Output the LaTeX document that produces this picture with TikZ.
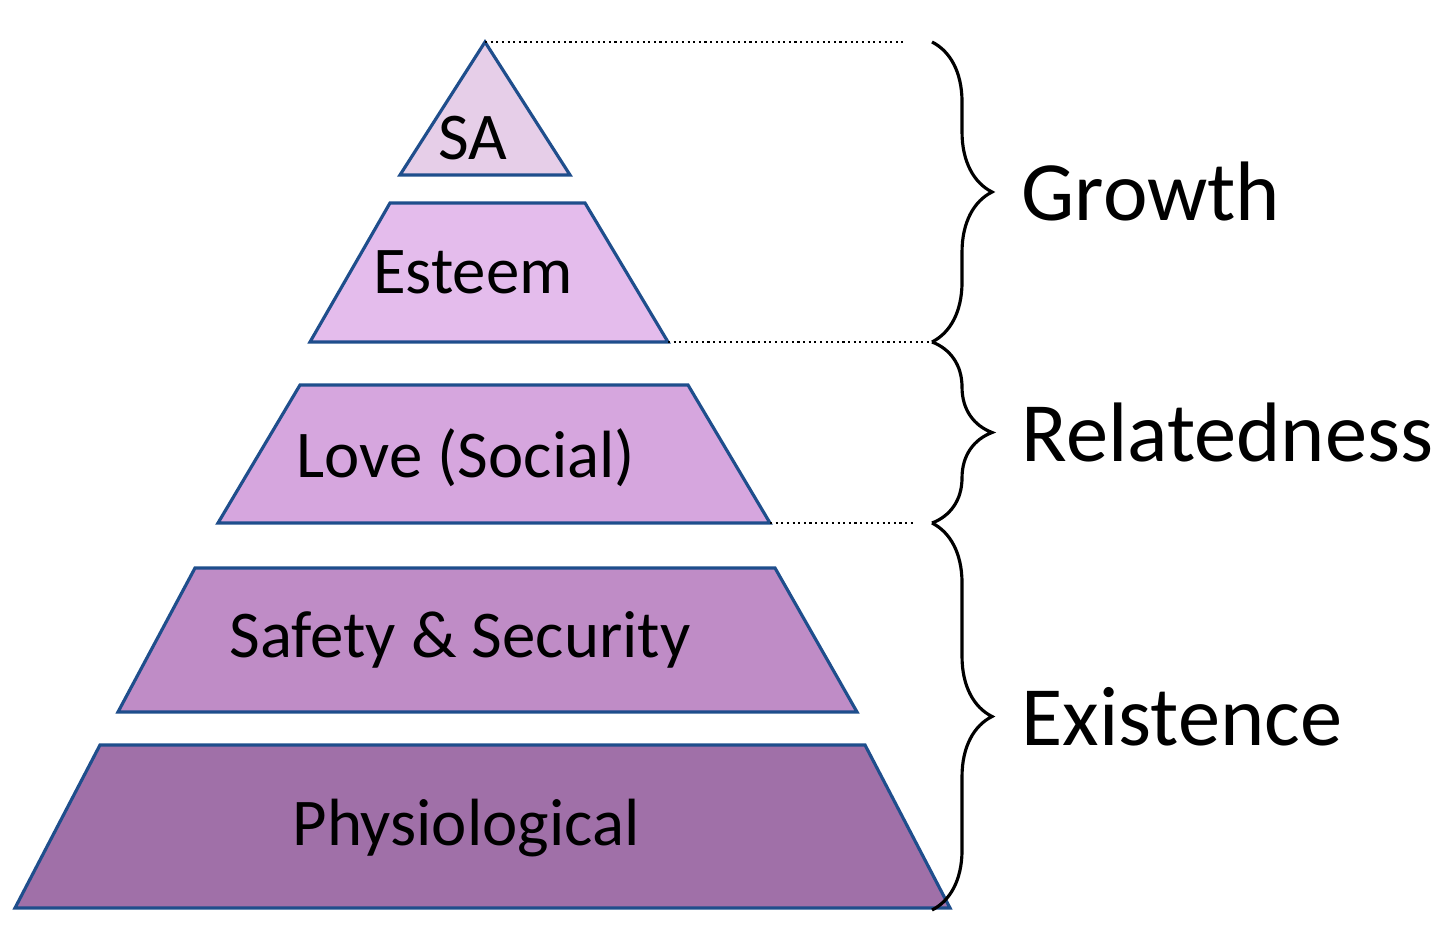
\documentclass[tikz,border=0pt]{standalone}
\usepackage{fontspec}
\setmainfont{Carlito}
\usetikzlibrary{positioning,calc,decorations.pathreplacing}
\definecolor{edgeblue}{RGB}{31,78,140}
\definecolor{saFill}{RGB}{230,206,232}
\definecolor{esFill}{RGB}{228,188,236}
\definecolor{loFill}{RGB}{214,166,222}
\definecolor{sfFill}{RGB}{191,140,198}
\definecolor{phFill}{RGB}{160,112,168}

\begin{document}
\begin{tikzpicture}[x=0.01cm, y=-0.01cm,
  layer/.style={draw=edgeblue, line width=0.9pt},
  lbl/.style={font=\fontsize{19}{23}\selectfont, inner sep=0pt},
  grp/.style={font=\fontsize{24}{28}\selectfont, anchor=west, inner sep=0pt},
  guide/.style={densely dotted, line width=0.6pt},
  bracket/.style={decorate, decoration={brace, amplitude=0.6cm}, line width=0.9pt}
]
\useasboundingbox (0,0) rectangle (1440,940);
% pyramid layers
\draw[layer, fill=saFill] (485,42) -- (570,175) -- (400,175) -- cycle;
\draw[layer, fill=esFill] (390,203) -- (585,203) -- (668,342) -- (310,342) -- cycle;
\draw[layer, fill=loFill] (300,385) -- (688,385) -- (770,523) -- (218,523) -- cycle;
\draw[layer, fill=sfFill] (195,568) -- (775,568) -- (857,712) -- (118,712) -- cycle;
\draw[layer, fill=phFill] (100,745) -- (865,745) -- (950,908) -- (15,908) -- cycle;
\node[lbl] (sa) at (473,138) {SA};
\node[lbl] (esteem) at (473,272) {Esteem};
\node[lbl] (love) at (466,458) {Love (Social)};
\node[lbl] (safety) at (460,640) {Safety \& Security};
\node[lbl] (physio) at (466,828) {Physiological};
% guides
\coordinate (gTop) at (932,42);
\coordinate (gMid) at (932,342);
\coordinate (gLow) at (932,523);
\coordinate (gBot) at (932,910);
\draw[guide] (485,42) -- (905,42);
\draw[guide] (668,342) -- (gMid);
\draw[guide] (770,523) -- (915,523);
% braces
\draw[bracket] (gTop) -- (gMid) node[midway, xshift=0.88cm, grp] (growth) {Growth};
\draw[bracket] (gMid) -- (gLow) node[midway, xshift=0.88cm, grp] (related) {Relatedness};
\draw[bracket] (gLow) -- (gBot) node[midway, xshift=0.88cm, grp] (exist) {Existence};
\end{tikzpicture}
\end{document}
